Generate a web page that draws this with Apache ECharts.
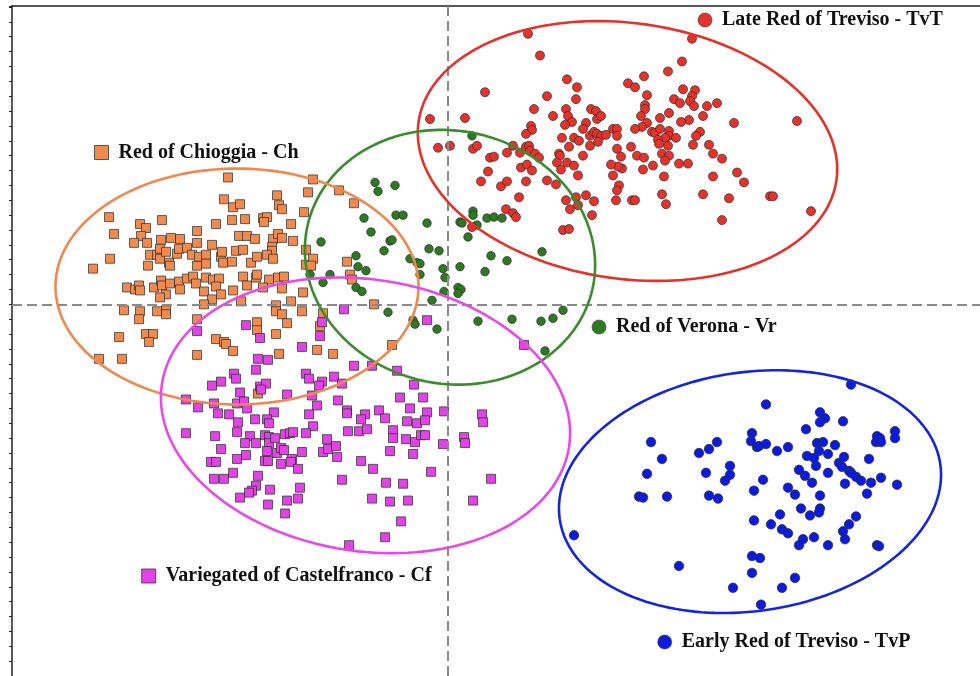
<!DOCTYPE html>
<html>
<head>
<meta charset="utf-8">
<script src="https://cdn.jsdelivr.net/npm/echarts@6/dist/echarts.min.js"></script>
<style>html,body{margin:0;padding:0;background:#fff;}#chart{width:980px;height:676px;}</style>
</head>
<body>
<div id="chart"></div>
<script>
// ---- Data (PC1, PC2 scores) ----
const lateRedTreviso = [
[0.80,2.73],[0.92,2.51],[0.37,2.14],[1.19,2.27],[1.29,2.19],[0.99,2.10],[1.28,2.07],[-0.18,1.87],[0.17,1.88],[0.86,1.97],[1.05,1.90],[1.18,1.97],[1.43,1.97],[1.48,1.95],[1.20,1.90],[1.24,1.84],[1.17,1.81],[1.49,1.87],[1.53,1.90],[1.38,1.83],[1.35,1.77],[0.83,1.80],[0.84,1.76],[0.78,1.72],[1.14,1.68],[1.26,1.68],[1.31,1.65],[1.42,1.70],[1.46,1.74],[1.49,1.72],[1.53,1.70],[1.58,1.71],[-0.10,1.58],[0.02,1.60],[0.25,1.57],[0.29,1.60],[0.42,1.48],[0.46,1.49],[0.59,1.53],[0.65,1.60],[0.72,1.53],[0.78,1.59],[0.81,1.60],[0.82,1.55],[0.87,1.52],[0.91,1.48],[1.21,1.59],[1.42,1.60],[1.50,1.64],[1.11,1.52],[1.12,1.50],[1.35,1.50],[0.40,1.34],[0.73,1.38],[0.79,1.41],[0.84,1.35],[1.09,1.43],[1.19,1.43],[1.26,1.40],[1.13,1.36],[1.30,1.30],[0.33,1.24],[0.53,1.19],[0.59,1.24],[0.78,1.24],[0.99,1.25],[1.08,1.21],[0.71,1.08],[1.18,1.05],[1.28,1.08],[1.38,1.10],[1.46,1.04],[1.22,0.96],[1.30,1.00],[1.44,0.90],[0.58,0.96],[0.65,0.92],[0.68,0.88],[0.24,0.78],[1.15,0.75],[1.21,0.76],
[2.44,2.68],[2.34,2.45],[2.20,2.35],[1.96,2.30],[1.80,2.23],[1.87,2.19],[1.99,2.11],[2.35,2.17],[2.47,2.16],[2.44,2.10],[2.42,2.05],[2.26,2.07],[2.32,2.03],[2.46,2.00],[2.59,2.00],[2.69,2.03],[1.97,2.01],[1.97,1.97],[1.93,1.90],[2.12,1.88],[2.21,1.93],[2.41,1.86],[2.33,1.84],[2.55,1.90],[1.99,1.83],[1.94,1.79],[1.87,1.77],[2.04,1.74],[2.07,1.73],[2.12,1.77],[2.21,1.75],[2.21,1.70],[2.17,1.68],[2.10,1.66],[2.28,1.68],[2.52,1.74],[2.48,1.70],[2.86,1.83],[3.49,1.85],[1.65,1.77],[1.69,1.77],[1.69,1.70],[2.45,1.61],[2.61,1.61],[2.20,1.60],[2.11,1.62],[1.83,1.59],[1.69,1.57],[1.89,1.50],[1.96,1.48],[2.14,1.52],[2.21,1.50],[1.73,1.49],[2.17,1.45],[2.65,1.52],[2.74,1.47],[2.31,1.42],[2.40,1.42],[2.05,1.40],[1.95,1.36],[1.74,1.37],[1.70,1.39],[1.63,1.41],[1.65,1.30],[2.16,1.29],[2.65,1.29],[2.89,1.33],[2.96,1.23],[1.71,1.20],[1.69,1.15],[2.14,1.11],[2.55,1.11],[2.81,1.07],[3.22,1.09],[3.25,1.09],[1.68,1.05],[1.84,1.05],[1.87,1.05],[2.18,1.01],[2.74,0.85],[3.63,0.94]
];
const redChioggia = [
[-2.20,1.28],[-2.24,1.06],[-2.15,0.98],[-2.08,1.01],[-3.39,0.88],[-3.34,0.71],[-3.08,0.81],[-3.02,0.77],[-2.86,0.85],[-2.32,0.81],[-2.16,0.85],[-2.03,0.86],[-3.07,0.69],[-3.14,0.62],[-3.01,0.62],[-2.87,0.65],[-2.77,0.67],[-2.68,0.66],[-2.51,0.74],[-2.09,0.69],[-2.01,0.69],[-1.93,0.66],[-3.38,0.46],[-3.55,0.36],[-3.00,0.39],[-2.98,0.50],[-2.91,0.50],[-2.88,0.56],[-2.88,0.46],[-2.82,0.53],[-2.79,0.42],[-2.78,0.39],[-2.71,0.51],[-2.69,0.56],[-2.61,0.57],[-2.56,0.50],[-2.51,0.62],[-2.51,0.39],[-2.49,0.48],[-2.42,0.50],[-2.42,0.41],[-2.36,0.60],[-2.27,0.48],[-2.26,0.53],[-2.25,0.42],[-2.16,0.43],[-2.12,0.54],[-2.05,0.55],[-1.97,0.42],[-3.21,0.17],[-3.13,0.15],[-3.09,0.19],[-3.08,0.14],[-2.94,0.17],[-2.87,0.24],[-2.86,0.19],[-2.82,0.10],[-2.88,0.07],[-2.78,0.21],[-2.69,0.23],[-2.68,0.15],[-2.61,0.26],[-2.55,0.28],[-2.52,0.21],[-2.42,0.27],[-2.44,0.13],[-2.35,0.25],[-2.29,0.26],[-2.32,0.18],[-2.27,0.10],[-2.36,0.05],[-2.44,0.00],[-2.15,0.14],[-2.05,0.28],[-2.01,0.19],[-1.92,0.27],[-2.07,0.03],[-3.24,-0.06],[-3.08,-0.07],[-3.09,-0.15],[-2.91,-0.07],[-2.82,-0.06],[-2.82,-0.10],[-2.51,-0.15],[-3.29,-0.33],[-3.02,-0.30],[-2.95,-0.30],[-2.99,-0.38],[-2.32,-0.35],[-2.24,-0.38],[-2.22,-0.40],[-2.15,-0.47],[-2.51,-0.51],[-3.49,-0.55],[-3.26,-0.55],
[-1.35,1.26],[-1.40,1.13],[-1.09,1.15],[-0.94,1.02],[-1.71,1.10],[-1.69,1.00],[-1.66,0.96],[-1.44,0.93],[-1.57,0.81],[-1.85,0.87],[-1.81,0.88],[-1.84,0.83],[-1.75,0.66],[-1.70,0.71],[-1.66,0.67],[-1.55,0.64],[-1.76,0.58],[-1.76,0.54],[-1.81,0.50],[-1.75,0.46],[-1.42,0.55],[-1.42,0.40],[-1.35,0.46],[-1.37,0.39],[-1.01,0.43],[-0.98,0.30],[-0.96,0.25],[-1.79,0.25],[-1.70,0.27],[-1.64,0.28],[-1.66,0.16],[-1.85,0.17],[-1.45,0.12],[-1.57,0.03],[-1.72,-0.01],[-1.72,-0.07],[-1.66,-0.10],[-1.61,-0.19],[-1.46,-0.07],[-1.25,-0.09],[-0.74,0.00],[-1.72,-0.30],[-1.69,-0.50],[-1.31,-0.46],[-1.15,-0.50],[-0.56,-0.41],[-1.28,-0.22],
[-1.91,-0.18],[-1.91,-0.26],[-1.91,0.30],[-1.91,0.48],[-1.90,-0.90]
];
const redVerona = [
[-0.73,1.23],[-0.70,1.14],[-0.53,1.20],[-0.84,0.87],[-0.52,0.90],[-0.45,0.90],[-0.21,0.82],[-0.77,0.73],[-0.58,0.64],[-0.56,0.65],[-0.64,0.54],[-1.27,0.63],[-0.92,0.49],[-0.90,0.38],[-0.82,0.34],[-0.38,0.46],[-0.31,0.42],[-0.28,0.41],[-0.28,0.30],[-0.19,0.56],[-0.09,0.54],[-0.05,0.36],[-0.03,0.27],[0.12,0.38],[0.10,0.17],[0.13,0.15],[0.10,0.11],[-0.04,0.13],[-0.16,0.04],[-1.18,0.30],[-1.25,0.22],[-0.92,0.17],[-0.86,0.13],[-0.60,-0.08],[-0.35,-0.16],[-0.33,-0.20],[-0.11,-0.25],[0.30,-0.17],[0.24,1.70],[0.25,0.94],[0.25,0.90],[0.12,0.83],[0.14,0.82],[0.20,0.68],[0.39,0.87],[0.46,0.88],[0.54,0.87],[0.29,0.80],[0.43,0.49],[0.59,0.44],[0.94,0.53],[0.37,0.33],[0.64,-0.15],[0.93,-0.17],[1.05,-0.14],[1.15,-0.06],[0.97,-0.47],[-1.38,0.30]
];
const variegatedCastelfranco = [
[-2.02,-0.21],[-1.88,-0.34],[-2.51,-0.27],[-1.46,-0.43],[-1.28,-0.32],[-1.26,-0.18],[-1.90,-0.55],[-1.80,-0.56],[-1.92,-0.66],[-2.14,-0.70],[-2.12,-0.75],[-2.27,-0.78],[-2.36,-0.82],[-2.08,-0.89],[-1.88,-0.83],[-1.82,-0.80],[-1.87,-0.86],[-1.42,-0.70],[-1.39,-0.75],[-1.26,-0.78],[-1.29,-0.82],[-1.14,-0.73],[-1.61,-0.91],[-1.36,-0.92],[-1.31,-1.02],[-2.62,-0.96],[-2.50,-1.04],[-2.34,-1.00],[-2.11,-1.00],[-2.04,-0.98],[-2.01,-1.05],[-1.93,-1.16],[-1.74,-1.09],[-2.30,-1.10],[-2.19,-1.11],[-2.10,-1.19],[-1.81,-1.16],[-1.79,-1.20],[-1.39,-1.11],[-1.35,-1.23],[-2.62,-1.30],[-2.33,-1.33],[-2.11,-1.29],[-1.98,-1.33],[-2.03,-1.40],[-1.92,-1.40],[-1.83,-1.32],[-1.79,-1.34],[-1.79,-1.40],[-1.73,-1.35],[-1.63,-1.31],[-1.58,-1.30],[-1.55,-1.29],[-1.42,-1.30],[-2.27,-1.46],[-2.02,-1.52],[-1.81,-1.48],[-1.71,-1.50],[-1.67,-1.45],[-1.64,-1.47],[-1.46,-1.49],[-1.21,-1.36],[-1.25,-1.49],[-1.20,-1.46],[-2.37,-1.59],[-2.32,-1.59],[-2.11,-1.56],[-1.83,-1.58],[-1.80,-1.58],[-1.67,-1.61],[-1.56,-1.56],[-1.57,-1.59],[-1.50,-1.66],[-2.15,-1.70],[-2.34,-1.76],[-2.24,-1.76],[-1.90,-1.73],[-1.92,-1.83],[-1.96,-1.88],[-1.99,-1.90],[-1.78,-1.87],[-1.48,-1.85],[-2.08,-1.95],[-1.80,-2.02],[-1.61,-1.98],[-1.50,-1.96],[-1.63,-2.11],
[-1.04,-0.05],[-0.21,-0.16],[-0.94,-0.62],[-0.76,-0.62],[-0.51,-0.67],[-1.06,-0.80],[-0.34,-0.81],[-0.48,-0.94],[-0.25,-0.94],[-1.10,-0.97],[-0.38,-1.05],[-0.21,-1.09],[-0.04,-1.08],[-1.01,-1.07],[-1.01,-1.10],[-0.83,-1.11],[-0.87,-1.16],[-0.69,-1.07],[-0.63,-1.15],[-0.41,-1.18],[-0.31,-1.20],[-0.23,-1.17],[-1.00,-1.28],[-0.89,-1.28],[-0.81,-1.26],[-0.55,-1.27],[-0.55,-1.35],[-0.42,-1.36],[-0.33,-1.39],[-0.27,-1.32],[-0.23,-1.32],[-0.05,-1.41],[-1.12,-1.43],[-1.11,-1.54],[-0.58,-1.48],[-0.35,-1.51],[-0.87,-1.58],[-0.75,-1.66],[-0.17,-1.69],[-1.06,-1.77],[-0.62,-1.80],[-0.45,-1.81],[-0.76,-1.96],[-0.58,-1.99],[-0.40,-1.98],[-0.47,-2.19],[-0.63,-2.35],[-0.99,-2.43],[0.34,-1.11],[0.35,-1.19],[0.16,-1.34],[0.17,-1.40],[0.43,-1.76],[0.25,-1.98],[0.76,-0.41]
];
const earlyRedTreviso = [
[4.03,-0.81],[3.18,-1.01],[3.72,-1.09],[3.77,-1.15],[3.72,-1.19],[3.95,-1.18],[3.58,-1.26],[4.47,-1.28],[4.47,-1.35],[4.29,-1.33],[4.32,-1.35],[4.28,-1.39],[4.33,-1.39],[2.03,-1.39],[2.69,-1.39],[2.61,-1.46],[2.51,-1.50],[3.04,-1.30],[3.03,-1.38],[3.09,-1.44],[3.11,-1.43],[3.18,-1.41],[3.29,-1.48],[3.40,-1.44],[3.69,-1.40],[3.75,-1.39],[3.87,-1.42],[3.71,-1.48],[3.59,-1.53],[3.66,-1.55],[3.80,-1.51],[3.96,-1.54],[4.21,-1.56],[2.14,-1.56],[2.82,-1.63],[2.82,-1.72],[2.77,-1.78],[2.58,-1.70],[1.99,-1.71],[3.68,-1.63],[3.51,-1.67],[3.57,-1.73],[3.64,-1.80],[3.80,-1.70],[3.91,-1.60],[3.94,-1.64],[4.01,-1.68],[4.03,-1.70],[4.08,-1.74],[4.13,-1.78],[4.23,-1.80],[4.33,-1.75],[4.49,-1.82],[3.97,-1.81],[3.15,-1.77],[3.06,-1.88],[3.40,-1.85],[3.47,-1.92],[3.72,-1.93],[4.19,-1.91],[1.91,-1.94],[1.95,-1.95],[2.19,-1.94],[2.61,-1.93],[2.70,-1.96],[3.53,-2.06],[3.72,-2.06],[3.71,-2.10],[3.62,-2.13],[3.32,-2.12],[4.08,-2.14],[4.01,-2.22],[3.95,-2.29],[3.97,-2.37],[3.06,-2.18],[3.23,-2.22],[3.34,-2.27],[3.40,-2.31],[3.55,-2.37],[3.51,-2.43],[3.66,-2.35],[3.80,-2.43],[4.29,-2.43],[4.31,-2.44],[1.26,-2.33],[2.31,-2.64],[3.04,-2.54],[3.12,-2.56],[3.04,-2.71],[3.47,-2.76],[3.34,-2.86],[2.85,-2.86],[3.13,-3.03]
];

// Confidence ellipses (order: TvT, Vr, Ch, Cf, TvP)
const ellipseCx    = [1.795, 0.02, -2.11, -0.825, 3.02];
const ellipseCy    = [1.547, 0.475, 0.18, -1.12, -1.89];
const ellipseRx    = [2.11, 1.46, 1.815, 2.06, 1.923];
const ellipseRy    = [1.29, 1.275, 1.19, 1.37, 1.205];
const ellipseAngle = [-8, -13, 0, -9, 8.4];

const groupNames = ['Late Red of Treviso - TvT', 'Red of Verona - Vr', 'Red of Chioggia - Ch', 'Variegated of Castelfranco - Cf', 'Early Red of Treviso - TvP'];

// ---- Styles ----
const pointColors   = ['#E5332B', '#2E7A22', '#F08A4E', '#E243E6', '#0B1BE0'];
const ellipseColors = ['#E53129', '#3A8C2E', '#F0884F', '#E64BE8', '#1426D8'];

const chart = echarts.init(document.getElementById('chart'));

const ellipseData = ellipseCx.map((cx, i) => [cx, ellipseCy[i], ellipseRx[i], ellipseRy[i], ellipseAngle[i]]);

function renderEllipse(params, api) {
  const cx = api.value(0), cy = api.value(1), a = api.value(2), b = api.value(3);
  const th = api.value(4) * Math.PI / 180;
  const pts = [];
  const n = 180;
  for (let k = 0; k < n; k++) {
    const t = 2 * Math.PI * k / n;
    const dx = a * Math.cos(t), dy = b * Math.sin(t);
    pts.push(api.coord([cx + dx * Math.cos(th) - dy * Math.sin(th), cy + dx * Math.sin(th) + dy * Math.cos(th)]));
  }
  return {
    type: 'polygon',
    shape: { points: pts },
    style: { fill: 'none', stroke: ellipseColors[params.dataIndex], lineWidth: 2.6 }
  };
}

function pointSeries(name, data, color, symbol, size) {
  return {
    name: name, type: 'scatter', data: data, symbol: symbol, symbolSize: size,
    itemStyle: { color: color, borderColor: '#2a2a2a', borderWidth: 0.7, opacity: 1 },
    silent: true, z: 3
  };
}

const labelFont = 'bold 20px "Liberation Serif", "Times New Roman", serif';
function circleLabel(x, y, color, text) {
  return [
    { type: 'circle', shape: { cx: x, cy: y, r: 7 }, style: { fill: color, stroke: '#333', lineWidth: 0.6 }, z: 10 },
    { type: 'text', x: x + 17, y: y, style: { text: text, font: labelFont, fill: '#111', verticalAlign: 'middle' }, z: 10 }
  ];
}
function squareLabel(x, y, color, text) {
  return [
    { type: 'rect', shape: { x: x - 7, y: y - 7, width: 14, height: 14 }, style: { fill: color, stroke: '#333', lineWidth: 0.8 }, z: 10 },
    { type: 'text', x: x + 17, y: y, style: { text: text, font: labelFont, fill: '#111', verticalAlign: 'middle' }, z: 10 }
  ];
}

const option = {
  animation: false,
  backgroundColor: '#ffffff',
  grid: { left: 12, right: 0, top: 6, bottom: -6, containLabel: false },
  xAxis: {
    type: 'value', position: 'top', min: -4.36, max: 5.32,
    axisLine: { show: true, onZero: false, lineStyle: { color: '#222', width: 1.5 } },
    axisTick: { show: false }, axisLabel: { show: false }, splitLine: { show: false }
  },
  yAxis: {
    type: 'value', min: -3.75, max: 3.01, interval: 0.15,
    axisLine: { show: true, onZero: false, lineStyle: { color: '#222', width: 1.5 } },
    axisTick: { show: true, inside: false, length: 3, lineStyle: { color: '#222', width: 1 } },
    axisLabel: { show: false }, splitLine: { show: false }
  },
  graphic: { elements: [].concat(
    circleLabel(705, 20, pointColors[0], groupNames[0]),
    circleLabel(599, 327, pointColors[1], groupNames[1]),
    squareLabel(101.5, 152.5, pointColors[2], groupNames[2]),
    squareLabel(148.7, 576, pointColors[3], groupNames[3]),
    circleLabel(664.7, 642, pointColors[4], groupNames[4])
  ) },
  series: [
    {
      type: 'scatter', data: [], silent: true, z: 1,
      markLine: {
        silent: true, symbol: ['none', 'none'], label: { show: false }, animation: false,
        lineStyle: { color: '#8a8a8a', width: 2, type: [10, 5] },
        data: [{ xAxis: 0 }, { yAxis: 0 }]
      }
    },
    pointSeries(groupNames[2], redChioggia, pointColors[2], 'rect', 9),
    pointSeries(groupNames[3], variegatedCastelfranco, pointColors[3], 'rect', 9),
    pointSeries(groupNames[1], redVerona, pointColors[1], 'circle', 8.5),
    pointSeries(groupNames[0], lateRedTreviso, pointColors[0], 'circle', 9),
    pointSeries(groupNames[4], earlyRedTreviso, pointColors[4], 'circle', 9.5),
    {
      type: 'custom', data: ellipseData, renderItem: renderEllipse, silent: true, z: 5,
      encode: { x: 0, y: 1 }, clip: false
    }
  ]
};
chart.setOption(option);
</script>
</body>
</html>
